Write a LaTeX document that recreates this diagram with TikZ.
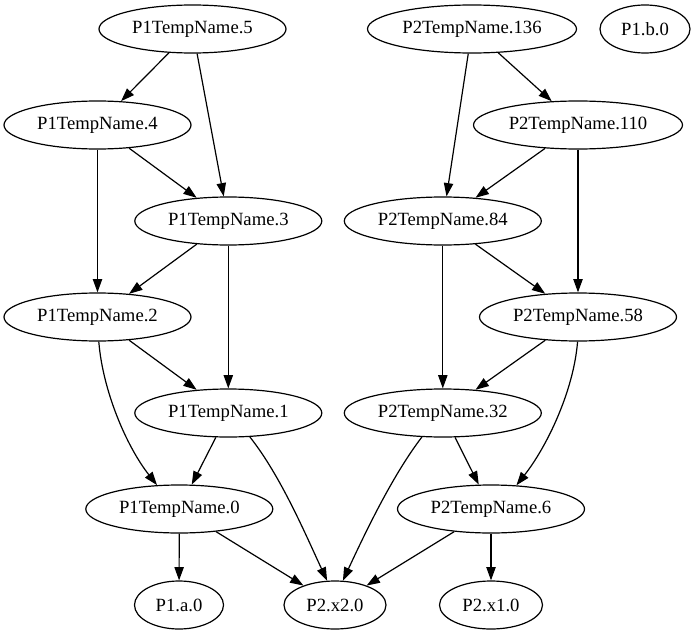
\documentclass[tikz,border=0pt]{standalone}
\usepackage{fontspec}
\setmainfont{Liberation Serif}
\usetikzlibrary{shapes.geometric,arrows.meta}
\begin{document}
\begin{tikzpicture}[x=0.75pt,y=-0.75pt,
  gv/.style={ellipse,draw,line width=0.9pt,inner sep=0pt,minimum height=36pt,
    font=\fontsize{14pt}{16pt}\selectfont},
  wA/.style={minimum width=140.25pt},
  wB/.style={minimum width=147.75pt},
  wC/.style={minimum width=156.75pt},
  link/.style={line width=0.9pt,-{Triangle[length=10pt,width=7pt]}}]
\useasboundingbox (0,0) rectangle (696,635);

% nodes, rank by rank
\node[gv,wA] (p5) at (192.5,29) {P1TempName.5};
\node[gv,wC] (q136) at (472,29) {P2TempName.136};
\node[gv,minimum width=67.5pt] (pb) at (645,29) {P1.b.0};
\node[gv,wA] (p4) at (97.5,125) {P1TempName.4};
\node[gv,wC] (q110) at (578,125) {P2TempName.110};
\node[gv,wA] (p3) at (228.3,221) {P1TempName.3};
\node[gv,wB] (q84) at (442.8,221) {P2TempName.84};
\node[gv,wA] (p2) at (97.5,317) {P1TempName.2};
\node[gv,wB] (q58) at (578,317) {P2TempName.58};
\node[gv,wA] (p1) at (228.3,413) {P1TempName.1};
\node[gv,wB] (q32) at (442.8,413) {P2TempName.32};
\node[gv,wA] (p0) at (179.3,509) {P1TempName.0};
\node[gv,wA] (q6) at (491,509) {P2TempName.6};
\node[gv,minimum width=66.75pt] (pa) at (179,605) {P1.a.0};
\node[gv,minimum width=76.5pt] (x2) at (335,605) {P2.x2.0};
\node[gv,minimum width=77.25pt] (x1) at (491,605) {P2.x1.0};

% P1 chain
\draw[link] (p5) -- (p4);
\draw[link] (p5) -- (p3);
\draw[link] (p4) -- (p3);
\draw[link] (p4) -- (p2);
\draw[link] (p3) -- (p2);
\draw[link] (p3) -- (p1);
\draw[link] (p2) -- (p1);
\draw[link] (p2.-87) .. controls +(4,50) and +(-30,-38) .. (p0.133);
\draw[link] (p1) -- (p0);
\draw[link] (p1.-48) .. controls +(31,39) and +(-21,-45) .. (x2.108);
\draw[link] (p0) -- (pa);
\draw[link] (p0) -- (x2);

% P2 chain
\draw[link] (q136) -- (q84);
\draw[link] (q136) -- (q110);
\draw[link] (q110) -- (q84);
\draw[link] (q110) -- (q58);
\draw[link] (q84) -- (q58);
\draw[link] (q84) -- (q32);
\draw[link] (q58) -- (q32);
\draw[link] (q58.-91) .. controls +(-4,50) and +(30,-38) .. (q6.43);
\draw[link] (q32) -- (q6);
\draw[link] (q32.-131) .. controls +(-30,39) and +(21,-45) .. (x2.72);
\draw[link] (q6) -- (x2);
\draw[link] (q6) -- (x1);
\end{tikzpicture}
\end{document}
